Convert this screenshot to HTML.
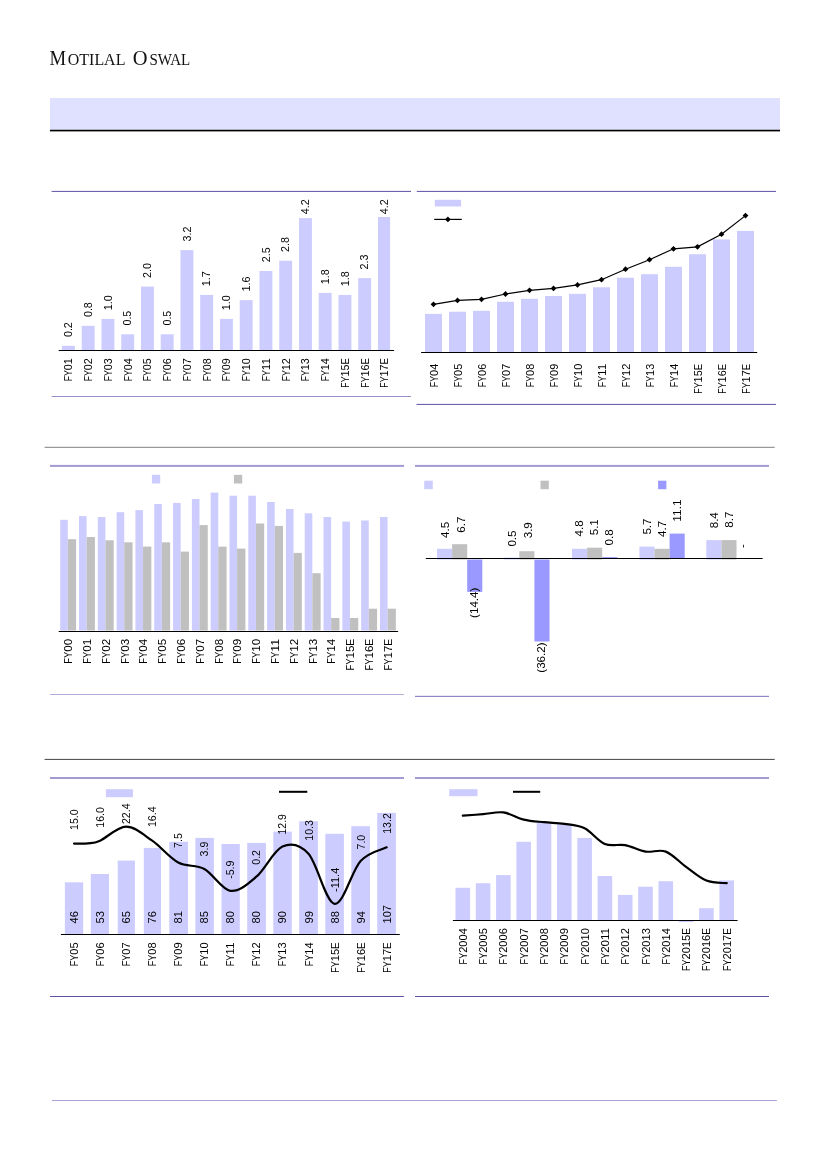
<!DOCTYPE html>
<html lang="en"><head><meta charset="utf-8"><title>Motilal Oswal</title>
<style>
html,body{margin:0;padding:0;background:#fff;}
body{width:827px;height:1169px;overflow:hidden;position:relative;font-family:"Liberation Sans",sans-serif;}
svg{position:absolute;left:0;top:0;display:block;}
svg text.lg{font-family:"Liberation Serif",serif;fill:#111;}
svg text{font-family:"Liberation Sans",sans-serif;fill:#000;}
.logo{position:absolute;left:49px;top:44px;font-family:"Liberation Serif",serif;color:#111;white-space:nowrap;line-height:24px;font-size:15.5px;letter-spacing:1.45px;}
.logo b{font-weight:normal;font-size:21.5px;letter-spacing:0.6px;}
</style></head><body>
<svg width="827" height="1169" viewBox="0 0 827 1169">
<rect x="50.00" y="98.00" width="730.00" height="31.80" fill="#E0E0FF"/>
<rect x="50.00" y="129.75" width="730.00" height="1.65" fill="#000"/>
<rect x="51.60" y="190.90" width="359.40" height="1.00" fill="#5C52A8"/>
<rect x="416.80" y="190.90" width="359.20" height="1.00" fill="#5C52A8"/>
<rect x="51.60" y="396.00" width="359.40" height="0.80" fill="#7D75BC"/>
<rect x="416.50" y="403.90" width="359.50" height="1.00" fill="#5C52A8"/>
<rect x="44.60" y="446.80" width="730.10" height="1.00" fill="#808080"/>
<rect x="50.00" y="464.90" width="354.00" height="2.00" fill="#A29BD1"/>
<rect x="415.00" y="464.90" width="354.00" height="2.00" fill="#A29BD1"/>
<rect x="50.00" y="694.05" width="353.80" height="0.90" fill="#A9A3D5"/>
<rect x="415.00" y="695.80" width="354.00" height="1.20" fill="#8F88C7"/>
<rect x="44.60" y="758.90" width="730.10" height="1.00" fill="#444"/>
<rect x="50.00" y="777.00" width="354.00" height="2.00" fill="#A29BD1"/>
<rect x="415.00" y="777.00" width="354.00" height="2.00" fill="#A29BD1"/>
<rect x="50.00" y="996.00" width="353.80" height="1.00" fill="#5C52A8"/>
<rect x="415.00" y="996.00" width="354.00" height="1.00" fill="#5C52A8"/>
<rect x="52.00" y="1100.00" width="724.90" height="1.00" fill="#A8A2D6"/>
<rect x="62.00" y="345.80" width="12.90" height="4.70" fill="#CCCCFF"/>
<g transform="translate(72.15,337.10) rotate(-90)" font-size="10.7">
<text x="0.00" textLength="14.94" lengthAdjust="spacingAndGlyphs">0.2</text>
</g>
<g transform="translate(72.35,381.33) rotate(-90)" font-size="10.7">
<text x="0.00" textLength="11.16" lengthAdjust="spacingAndGlyphs">FY</text>
<text x="11.16" textLength="11.97" lengthAdjust="spacingAndGlyphs">01</text>
</g>
<rect x="81.75" y="325.80" width="12.90" height="24.70" fill="#CCCCFF"/>
<g transform="translate(91.90,317.10) rotate(-90)" font-size="10.7">
<text x="0.00" textLength="14.94" lengthAdjust="spacingAndGlyphs">0.8</text>
</g>
<g transform="translate(92.10,381.33) rotate(-90)" font-size="10.7">
<text x="0.00" textLength="11.16" lengthAdjust="spacingAndGlyphs">FY</text>
<text x="11.16" textLength="11.97" lengthAdjust="spacingAndGlyphs">02</text>
</g>
<rect x="101.50" y="318.90" width="12.90" height="31.60" fill="#CCCCFF"/>
<g transform="translate(111.65,310.20) rotate(-90)" font-size="10.7">
<text x="0.00" textLength="14.94" lengthAdjust="spacingAndGlyphs">1.0</text>
</g>
<g transform="translate(111.85,381.33) rotate(-90)" font-size="10.7">
<text x="0.00" textLength="11.16" lengthAdjust="spacingAndGlyphs">FY</text>
<text x="11.16" textLength="11.97" lengthAdjust="spacingAndGlyphs">03</text>
</g>
<rect x="121.25" y="334.30" width="12.90" height="16.20" fill="#CCCCFF"/>
<g transform="translate(131.40,325.60) rotate(-90)" font-size="10.7">
<text x="0.00" textLength="14.94" lengthAdjust="spacingAndGlyphs">0.5</text>
</g>
<g transform="translate(131.60,381.33) rotate(-90)" font-size="10.7">
<text x="0.00" textLength="11.16" lengthAdjust="spacingAndGlyphs">FY</text>
<text x="11.16" textLength="11.97" lengthAdjust="spacingAndGlyphs">04</text>
</g>
<rect x="141.00" y="286.60" width="12.90" height="63.90" fill="#CCCCFF"/>
<g transform="translate(151.15,277.90) rotate(-90)" font-size="10.7">
<text x="0.00" textLength="14.94" lengthAdjust="spacingAndGlyphs">2.0</text>
</g>
<g transform="translate(151.35,381.33) rotate(-90)" font-size="10.7">
<text x="0.00" textLength="11.16" lengthAdjust="spacingAndGlyphs">FY</text>
<text x="11.16" textLength="11.97" lengthAdjust="spacingAndGlyphs">05</text>
</g>
<rect x="160.75" y="334.30" width="12.90" height="16.20" fill="#CCCCFF"/>
<g transform="translate(170.90,325.60) rotate(-90)" font-size="10.7">
<text x="0.00" textLength="14.94" lengthAdjust="spacingAndGlyphs">0.5</text>
</g>
<g transform="translate(171.10,381.33) rotate(-90)" font-size="10.7">
<text x="0.00" textLength="11.16" lengthAdjust="spacingAndGlyphs">FY</text>
<text x="11.16" textLength="11.97" lengthAdjust="spacingAndGlyphs">06</text>
</g>
<rect x="180.50" y="250.10" width="12.90" height="100.40" fill="#CCCCFF"/>
<g transform="translate(190.65,241.40) rotate(-90)" font-size="10.7">
<text x="0.00" textLength="14.94" lengthAdjust="spacingAndGlyphs">3.2</text>
</g>
<g transform="translate(190.85,381.33) rotate(-90)" font-size="10.7">
<text x="0.00" textLength="11.16" lengthAdjust="spacingAndGlyphs">FY</text>
<text x="11.16" textLength="11.97" lengthAdjust="spacingAndGlyphs">07</text>
</g>
<rect x="200.25" y="294.90" width="12.90" height="55.60" fill="#CCCCFF"/>
<g transform="translate(210.40,286.20) rotate(-90)" font-size="10.7">
<text x="0.00" textLength="14.94" lengthAdjust="spacingAndGlyphs">1.7</text>
</g>
<g transform="translate(210.60,381.33) rotate(-90)" font-size="10.7">
<text x="0.00" textLength="11.16" lengthAdjust="spacingAndGlyphs">FY</text>
<text x="11.16" textLength="11.97" lengthAdjust="spacingAndGlyphs">08</text>
</g>
<rect x="220.00" y="318.90" width="12.90" height="31.60" fill="#CCCCFF"/>
<g transform="translate(230.15,310.20) rotate(-90)" font-size="10.7">
<text x="0.00" textLength="14.94" lengthAdjust="spacingAndGlyphs">1.0</text>
</g>
<g transform="translate(230.35,381.33) rotate(-90)" font-size="10.7">
<text x="0.00" textLength="11.16" lengthAdjust="spacingAndGlyphs">FY</text>
<text x="11.16" textLength="11.97" lengthAdjust="spacingAndGlyphs">09</text>
</g>
<rect x="239.75" y="300.10" width="12.90" height="50.40" fill="#CCCCFF"/>
<g transform="translate(249.90,291.40) rotate(-90)" font-size="10.7">
<text x="0.00" textLength="14.94" lengthAdjust="spacingAndGlyphs">1.6</text>
</g>
<g transform="translate(250.10,381.33) rotate(-90)" font-size="10.7">
<text x="0.00" textLength="11.16" lengthAdjust="spacingAndGlyphs">FY</text>
<text x="11.16" textLength="11.97" lengthAdjust="spacingAndGlyphs">10</text>
</g>
<rect x="259.50" y="271.00" width="12.90" height="79.50" fill="#CCCCFF"/>
<g transform="translate(269.65,262.30) rotate(-90)" font-size="10.7">
<text x="0.00" textLength="14.94" lengthAdjust="spacingAndGlyphs">2.5</text>
</g>
<g transform="translate(269.85,381.33) rotate(-90)" font-size="10.7">
<text x="0.00" textLength="11.16" lengthAdjust="spacingAndGlyphs">FY</text>
<text x="11.16" textLength="11.97" lengthAdjust="spacingAndGlyphs">11</text>
</g>
<rect x="279.25" y="260.70" width="12.90" height="89.80" fill="#CCCCFF"/>
<g transform="translate(289.40,252.00) rotate(-90)" font-size="10.7">
<text x="0.00" textLength="14.94" lengthAdjust="spacingAndGlyphs">2.8</text>
</g>
<g transform="translate(289.60,381.33) rotate(-90)" font-size="10.7">
<text x="0.00" textLength="11.16" lengthAdjust="spacingAndGlyphs">FY</text>
<text x="11.16" textLength="11.97" lengthAdjust="spacingAndGlyphs">12</text>
</g>
<rect x="299.00" y="218.10" width="12.90" height="132.40" fill="#CCCCFF"/>
<g transform="translate(309.15,214.20) rotate(-90)" font-size="10.7">
<text x="0.00" textLength="14.94" lengthAdjust="spacingAndGlyphs">4.2</text>
</g>
<g transform="translate(309.35,381.33) rotate(-90)" font-size="10.7">
<text x="0.00" textLength="11.16" lengthAdjust="spacingAndGlyphs">FY</text>
<text x="11.16" textLength="11.97" lengthAdjust="spacingAndGlyphs">13</text>
</g>
<rect x="318.75" y="292.90" width="12.90" height="57.60" fill="#CCCCFF"/>
<g transform="translate(328.90,284.20) rotate(-90)" font-size="10.7">
<text x="0.00" textLength="14.94" lengthAdjust="spacingAndGlyphs">1.8</text>
</g>
<g transform="translate(329.10,381.33) rotate(-90)" font-size="10.7">
<text x="0.00" textLength="11.16" lengthAdjust="spacingAndGlyphs">FY</text>
<text x="11.16" textLength="11.97" lengthAdjust="spacingAndGlyphs">14</text>
</g>
<rect x="338.50" y="294.90" width="12.90" height="55.60" fill="#CCCCFF"/>
<g transform="translate(348.65,286.20) rotate(-90)" font-size="10.7">
<text x="0.00" textLength="14.94" lengthAdjust="spacingAndGlyphs">1.8</text>
</g>
<g transform="translate(348.85,387.70) rotate(-90)" font-size="10.7">
<text x="0.00" textLength="11.16" lengthAdjust="spacingAndGlyphs">FY</text>
<text x="11.16" textLength="11.97" lengthAdjust="spacingAndGlyphs">15</text>
<text x="23.13" textLength="6.37" lengthAdjust="spacingAndGlyphs">E</text>
</g>
<rect x="358.25" y="278.10" width="12.90" height="72.40" fill="#CCCCFF"/>
<g transform="translate(368.40,269.40) rotate(-90)" font-size="10.7">
<text x="0.00" textLength="14.94" lengthAdjust="spacingAndGlyphs">2.3</text>
</g>
<g transform="translate(368.60,387.70) rotate(-90)" font-size="10.7">
<text x="0.00" textLength="11.16" lengthAdjust="spacingAndGlyphs">FY</text>
<text x="11.16" textLength="11.97" lengthAdjust="spacingAndGlyphs">16</text>
<text x="23.13" textLength="6.37" lengthAdjust="spacingAndGlyphs">E</text>
</g>
<rect x="378.00" y="217.00" width="12.10" height="133.50" fill="#CCCCFF"/>
<g transform="translate(388.15,214.20) rotate(-90)" font-size="10.7">
<text x="0.00" textLength="14.94" lengthAdjust="spacingAndGlyphs">4.2</text>
</g>
<g transform="translate(388.35,387.70) rotate(-90)" font-size="10.7">
<text x="0.00" textLength="11.16" lengthAdjust="spacingAndGlyphs">FY</text>
<text x="11.16" textLength="11.97" lengthAdjust="spacingAndGlyphs">17</text>
<text x="23.13" textLength="6.37" lengthAdjust="spacingAndGlyphs">E</text>
</g>
<rect x="58.70" y="350.00" width="335.40" height="1.00" fill="#000"/>
<rect x="425.00" y="313.90" width="17.00" height="38.60" fill="#CCCCFF"/>
<g transform="translate(438.30,387.22) rotate(-90)" font-size="10.7">
<text x="0.00" textLength="11.30" lengthAdjust="spacingAndGlyphs">FY</text>
<text x="11.30" textLength="12.12" lengthAdjust="spacingAndGlyphs">04</text>
</g>
<rect x="449.00" y="311.70" width="17.00" height="40.80" fill="#CCCCFF"/>
<g transform="translate(462.30,387.22) rotate(-90)" font-size="10.7">
<text x="0.00" textLength="11.30" lengthAdjust="spacingAndGlyphs">FY</text>
<text x="11.30" textLength="12.12" lengthAdjust="spacingAndGlyphs">05</text>
</g>
<rect x="473.00" y="310.80" width="17.00" height="41.70" fill="#CCCCFF"/>
<g transform="translate(486.30,387.22) rotate(-90)" font-size="10.7">
<text x="0.00" textLength="11.30" lengthAdjust="spacingAndGlyphs">FY</text>
<text x="11.30" textLength="12.12" lengthAdjust="spacingAndGlyphs">06</text>
</g>
<rect x="497.00" y="301.70" width="17.00" height="50.80" fill="#CCCCFF"/>
<g transform="translate(510.30,387.22) rotate(-90)" font-size="10.7">
<text x="0.00" textLength="11.30" lengthAdjust="spacingAndGlyphs">FY</text>
<text x="11.30" textLength="12.12" lengthAdjust="spacingAndGlyphs">07</text>
</g>
<rect x="521.00" y="298.80" width="17.00" height="53.70" fill="#CCCCFF"/>
<g transform="translate(534.30,387.22) rotate(-90)" font-size="10.7">
<text x="0.00" textLength="11.30" lengthAdjust="spacingAndGlyphs">FY</text>
<text x="11.30" textLength="12.12" lengthAdjust="spacingAndGlyphs">08</text>
</g>
<rect x="545.00" y="296.00" width="17.00" height="56.50" fill="#CCCCFF"/>
<g transform="translate(558.30,387.22) rotate(-90)" font-size="10.7">
<text x="0.00" textLength="11.30" lengthAdjust="spacingAndGlyphs">FY</text>
<text x="11.30" textLength="12.12" lengthAdjust="spacingAndGlyphs">09</text>
</g>
<rect x="569.00" y="293.80" width="17.00" height="58.70" fill="#CCCCFF"/>
<g transform="translate(582.30,387.22) rotate(-90)" font-size="10.7">
<text x="0.00" textLength="11.30" lengthAdjust="spacingAndGlyphs">FY</text>
<text x="11.30" textLength="12.12" lengthAdjust="spacingAndGlyphs">10</text>
</g>
<rect x="593.00" y="287.30" width="17.00" height="65.20" fill="#CCCCFF"/>
<g transform="translate(606.30,387.22) rotate(-90)" font-size="10.7">
<text x="0.00" textLength="11.30" lengthAdjust="spacingAndGlyphs">FY</text>
<text x="11.30" textLength="12.12" lengthAdjust="spacingAndGlyphs">11</text>
</g>
<rect x="617.00" y="277.70" width="17.00" height="74.80" fill="#CCCCFF"/>
<g transform="translate(630.30,387.22) rotate(-90)" font-size="10.7">
<text x="0.00" textLength="11.30" lengthAdjust="spacingAndGlyphs">FY</text>
<text x="11.30" textLength="12.12" lengthAdjust="spacingAndGlyphs">12</text>
</g>
<rect x="641.00" y="274.20" width="17.00" height="78.30" fill="#CCCCFF"/>
<g transform="translate(654.30,387.22) rotate(-90)" font-size="10.7">
<text x="0.00" textLength="11.30" lengthAdjust="spacingAndGlyphs">FY</text>
<text x="11.30" textLength="12.12" lengthAdjust="spacingAndGlyphs">13</text>
</g>
<rect x="665.00" y="266.80" width="17.00" height="85.70" fill="#CCCCFF"/>
<g transform="translate(678.30,387.22) rotate(-90)" font-size="10.7">
<text x="0.00" textLength="11.30" lengthAdjust="spacingAndGlyphs">FY</text>
<text x="11.30" textLength="12.12" lengthAdjust="spacingAndGlyphs">14</text>
</g>
<rect x="689.00" y="254.20" width="17.00" height="98.30" fill="#CCCCFF"/>
<g transform="translate(702.30,393.68) rotate(-90)" font-size="10.7">
<text x="0.00" textLength="11.30" lengthAdjust="spacingAndGlyphs">FY</text>
<text x="11.30" textLength="12.12" lengthAdjust="spacingAndGlyphs">15</text>
<text x="23.42" textLength="6.45" lengthAdjust="spacingAndGlyphs">E</text>
</g>
<rect x="713.00" y="239.40" width="17.00" height="113.10" fill="#CCCCFF"/>
<g transform="translate(726.30,393.68) rotate(-90)" font-size="10.7">
<text x="0.00" textLength="11.30" lengthAdjust="spacingAndGlyphs">FY</text>
<text x="11.30" textLength="12.12" lengthAdjust="spacingAndGlyphs">16</text>
<text x="23.42" textLength="6.45" lengthAdjust="spacingAndGlyphs">E</text>
</g>
<rect x="737.00" y="230.90" width="17.00" height="121.60" fill="#CCCCFF"/>
<g transform="translate(750.30,393.68) rotate(-90)" font-size="10.7">
<text x="0.00" textLength="11.30" lengthAdjust="spacingAndGlyphs">FY</text>
<text x="11.30" textLength="12.12" lengthAdjust="spacingAndGlyphs">17</text>
<text x="23.42" textLength="6.45" lengthAdjust="spacingAndGlyphs">E</text>
</g>
<rect x="421.10" y="352.00" width="336.10" height="1.00" fill="#000"/>
<polyline fill="none" stroke="#000" stroke-width="1.2" points="433.5,304.3 457.5,300.4 481.5,299.3 505.5,294.0 529.5,290.3 553.5,288.4 577.5,284.9 601.5,279.7 625.5,269.2 649.5,259.7 673.5,248.8 697.5,246.8 721.5,234.2 745.5,215.6"/>
<path d="M430.60,304.30 L433.50,301.40 L436.40,304.30 L433.50,307.20Z" fill="#000"/>
<path d="M454.60,300.40 L457.50,297.50 L460.40,300.40 L457.50,303.30Z" fill="#000"/>
<path d="M478.60,299.30 L481.50,296.40 L484.40,299.30 L481.50,302.20Z" fill="#000"/>
<path d="M502.60,294.00 L505.50,291.10 L508.40,294.00 L505.50,296.90Z" fill="#000"/>
<path d="M526.60,290.30 L529.50,287.40 L532.40,290.30 L529.50,293.20Z" fill="#000"/>
<path d="M550.60,288.40 L553.50,285.50 L556.40,288.40 L553.50,291.30Z" fill="#000"/>
<path d="M574.60,284.90 L577.50,282.00 L580.40,284.90 L577.50,287.80Z" fill="#000"/>
<path d="M598.60,279.70 L601.50,276.80 L604.40,279.70 L601.50,282.60Z" fill="#000"/>
<path d="M622.60,269.20 L625.50,266.30 L628.40,269.20 L625.50,272.10Z" fill="#000"/>
<path d="M646.60,259.70 L649.50,256.80 L652.40,259.70 L649.50,262.60Z" fill="#000"/>
<path d="M670.60,248.80 L673.50,245.90 L676.40,248.80 L673.50,251.70Z" fill="#000"/>
<path d="M694.60,246.80 L697.50,243.90 L700.40,246.80 L697.50,249.70Z" fill="#000"/>
<path d="M718.60,234.20 L721.50,231.30 L724.40,234.20 L721.50,237.10Z" fill="#000"/>
<path d="M742.60,215.60 L745.50,212.70 L748.40,215.60 L745.50,218.50Z" fill="#000"/>
<rect x="434.80" y="199.80" width="26.30" height="6.70" fill="#CCCCFF"/>
<rect x="434.20" y="218.80" width="27.60" height="1.20" fill="#000"/>
<path d="M445.00,219.40 L447.90,216.50 L450.80,219.40 L447.90,222.30Z" fill="#000"/>
<rect x="60.20" y="519.80" width="7.60" height="110.70" fill="#CCCCFF"/>
<rect x="67.80" y="539.20" width="8.30" height="91.30" fill="#C0C0C0"/>
<g transform="translate(72.10,663.69) rotate(-90)" font-size="10.7">
<text x="0.00" textLength="12.01" lengthAdjust="spacingAndGlyphs">FY</text>
<text x="12.01" textLength="12.88" lengthAdjust="spacingAndGlyphs">00</text>
</g>
<rect x="79.01" y="516.10" width="7.60" height="114.40" fill="#CCCCFF"/>
<rect x="86.61" y="537.00" width="8.30" height="93.50" fill="#C0C0C0"/>
<g transform="translate(90.91,663.69) rotate(-90)" font-size="10.7">
<text x="0.00" textLength="12.01" lengthAdjust="spacingAndGlyphs">FY</text>
<text x="12.01" textLength="12.88" lengthAdjust="spacingAndGlyphs">01</text>
</g>
<rect x="97.82" y="517.00" width="7.60" height="113.50" fill="#CCCCFF"/>
<rect x="105.42" y="540.30" width="8.30" height="90.20" fill="#C0C0C0"/>
<g transform="translate(109.72,663.69) rotate(-90)" font-size="10.7">
<text x="0.00" textLength="12.01" lengthAdjust="spacingAndGlyphs">FY</text>
<text x="12.01" textLength="12.88" lengthAdjust="spacingAndGlyphs">02</text>
</g>
<rect x="116.63" y="512.20" width="7.60" height="118.30" fill="#CCCCFF"/>
<rect x="124.23" y="542.30" width="8.30" height="88.20" fill="#C0C0C0"/>
<g transform="translate(128.53,663.69) rotate(-90)" font-size="10.7">
<text x="0.00" textLength="12.01" lengthAdjust="spacingAndGlyphs">FY</text>
<text x="12.01" textLength="12.88" lengthAdjust="spacingAndGlyphs">03</text>
</g>
<rect x="135.44" y="510.10" width="7.60" height="120.40" fill="#CCCCFF"/>
<rect x="143.04" y="546.60" width="8.30" height="83.90" fill="#C0C0C0"/>
<g transform="translate(147.34,663.69) rotate(-90)" font-size="10.7">
<text x="0.00" textLength="12.01" lengthAdjust="spacingAndGlyphs">FY</text>
<text x="12.01" textLength="12.88" lengthAdjust="spacingAndGlyphs">04</text>
</g>
<rect x="154.25" y="504.00" width="7.60" height="126.50" fill="#CCCCFF"/>
<rect x="161.85" y="542.30" width="8.30" height="88.20" fill="#C0C0C0"/>
<g transform="translate(166.15,663.69) rotate(-90)" font-size="10.7">
<text x="0.00" textLength="12.01" lengthAdjust="spacingAndGlyphs">FY</text>
<text x="12.01" textLength="12.88" lengthAdjust="spacingAndGlyphs">05</text>
</g>
<rect x="173.06" y="502.90" width="7.60" height="127.60" fill="#CCCCFF"/>
<rect x="180.66" y="551.60" width="8.30" height="78.90" fill="#C0C0C0"/>
<g transform="translate(184.96,663.69) rotate(-90)" font-size="10.7">
<text x="0.00" textLength="12.01" lengthAdjust="spacingAndGlyphs">FY</text>
<text x="12.01" textLength="12.88" lengthAdjust="spacingAndGlyphs">06</text>
</g>
<rect x="191.87" y="499.00" width="7.60" height="131.50" fill="#CCCCFF"/>
<rect x="199.47" y="525.10" width="8.30" height="105.40" fill="#C0C0C0"/>
<g transform="translate(203.77,663.69) rotate(-90)" font-size="10.7">
<text x="0.00" textLength="12.01" lengthAdjust="spacingAndGlyphs">FY</text>
<text x="12.01" textLength="12.88" lengthAdjust="spacingAndGlyphs">07</text>
</g>
<rect x="210.68" y="492.60" width="7.60" height="137.90" fill="#CCCCFF"/>
<rect x="218.28" y="546.60" width="8.30" height="83.90" fill="#C0C0C0"/>
<g transform="translate(222.58,663.69) rotate(-90)" font-size="10.7">
<text x="0.00" textLength="12.01" lengthAdjust="spacingAndGlyphs">FY</text>
<text x="12.01" textLength="12.88" lengthAdjust="spacingAndGlyphs">08</text>
</g>
<rect x="229.49" y="495.70" width="7.60" height="134.80" fill="#CCCCFF"/>
<rect x="237.09" y="548.60" width="8.30" height="81.90" fill="#C0C0C0"/>
<g transform="translate(241.39,663.69) rotate(-90)" font-size="10.7">
<text x="0.00" textLength="12.01" lengthAdjust="spacingAndGlyphs">FY</text>
<text x="12.01" textLength="12.88" lengthAdjust="spacingAndGlyphs">09</text>
</g>
<rect x="248.30" y="495.70" width="7.60" height="134.80" fill="#CCCCFF"/>
<rect x="255.90" y="523.50" width="8.30" height="107.00" fill="#C0C0C0"/>
<g transform="translate(260.20,663.69) rotate(-90)" font-size="10.7">
<text x="0.00" textLength="12.01" lengthAdjust="spacingAndGlyphs">FY</text>
<text x="12.01" textLength="12.88" lengthAdjust="spacingAndGlyphs">10</text>
</g>
<rect x="267.11" y="502.00" width="7.60" height="128.50" fill="#CCCCFF"/>
<rect x="274.71" y="525.90" width="8.30" height="104.60" fill="#C0C0C0"/>
<g transform="translate(279.01,663.69) rotate(-90)" font-size="10.7">
<text x="0.00" textLength="12.01" lengthAdjust="spacingAndGlyphs">FY</text>
<text x="12.01" textLength="12.88" lengthAdjust="spacingAndGlyphs">11</text>
</g>
<rect x="285.92" y="509.00" width="7.60" height="121.50" fill="#CCCCFF"/>
<rect x="293.52" y="552.90" width="8.30" height="77.60" fill="#C0C0C0"/>
<g transform="translate(297.82,663.69) rotate(-90)" font-size="10.7">
<text x="0.00" textLength="12.01" lengthAdjust="spacingAndGlyphs">FY</text>
<text x="12.01" textLength="12.88" lengthAdjust="spacingAndGlyphs">12</text>
</g>
<rect x="304.73" y="513.30" width="7.60" height="117.20" fill="#CCCCFF"/>
<rect x="312.33" y="573.20" width="8.30" height="57.30" fill="#C0C0C0"/>
<g transform="translate(316.63,663.69) rotate(-90)" font-size="10.7">
<text x="0.00" textLength="12.01" lengthAdjust="spacingAndGlyphs">FY</text>
<text x="12.01" textLength="12.88" lengthAdjust="spacingAndGlyphs">13</text>
</g>
<rect x="323.54" y="517.00" width="7.60" height="113.50" fill="#CCCCFF"/>
<rect x="331.14" y="618.00" width="8.30" height="12.50" fill="#C0C0C0"/>
<g transform="translate(335.44,663.69) rotate(-90)" font-size="10.7">
<text x="0.00" textLength="12.01" lengthAdjust="spacingAndGlyphs">FY</text>
<text x="12.01" textLength="12.88" lengthAdjust="spacingAndGlyphs">14</text>
</g>
<rect x="342.35" y="521.60" width="7.60" height="108.90" fill="#CCCCFF"/>
<rect x="349.95" y="618.00" width="8.30" height="12.50" fill="#C0C0C0"/>
<g transform="translate(354.25,670.55) rotate(-90)" font-size="10.7">
<text x="0.00" textLength="12.01" lengthAdjust="spacingAndGlyphs">FY</text>
<text x="12.01" textLength="12.88" lengthAdjust="spacingAndGlyphs">15</text>
<text x="24.89" textLength="6.86" lengthAdjust="spacingAndGlyphs">E</text>
</g>
<rect x="361.16" y="520.50" width="7.60" height="110.00" fill="#CCCCFF"/>
<rect x="368.76" y="608.70" width="8.30" height="21.80" fill="#C0C0C0"/>
<g transform="translate(373.06,670.55) rotate(-90)" font-size="10.7">
<text x="0.00" textLength="12.01" lengthAdjust="spacingAndGlyphs">FY</text>
<text x="12.01" textLength="12.88" lengthAdjust="spacingAndGlyphs">16</text>
<text x="24.89" textLength="6.86" lengthAdjust="spacingAndGlyphs">E</text>
</g>
<rect x="379.97" y="517.00" width="7.60" height="113.50" fill="#CCCCFF"/>
<rect x="387.57" y="608.70" width="8.30" height="21.80" fill="#C0C0C0"/>
<g transform="translate(391.87,670.55) rotate(-90)" font-size="10.7">
<text x="0.00" textLength="12.01" lengthAdjust="spacingAndGlyphs">FY</text>
<text x="12.01" textLength="12.88" lengthAdjust="spacingAndGlyphs">17</text>
<text x="24.89" textLength="6.86" lengthAdjust="spacingAndGlyphs">E</text>
</g>
<rect x="58.70" y="631.00" width="339.40" height="1.00" fill="#000"/>
<rect x="151.90" y="474.80" width="8.30" height="8.70" fill="#CCCCFF"/>
<rect x="233.90" y="474.80" width="8.30" height="8.70" fill="#C0C0C0"/>
<rect x="437.00" y="548.80" width="15.10" height="10.70" fill="#CCCCFF"/>
<rect x="452.10" y="544.20" width="15.10" height="15.30" fill="#C0C0C0"/>
<rect x="467.20" y="559.50" width="15.10" height="32.40" fill="#9999FF"/>
<rect x="504.20" y="557.60" width="15.10" height="1.90" fill="#CCCCFF"/>
<rect x="519.30" y="551.20" width="15.10" height="8.30" fill="#C0C0C0"/>
<rect x="534.40" y="559.50" width="15.10" height="82.00" fill="#9999FF"/>
<rect x="572.00" y="548.80" width="15.10" height="10.70" fill="#CCCCFF"/>
<rect x="587.10" y="547.70" width="15.10" height="11.80" fill="#C0C0C0"/>
<rect x="602.20" y="557.10" width="15.10" height="1.40" fill="#9999FF"/>
<rect x="639.40" y="546.60" width="15.10" height="12.90" fill="#CCCCFF"/>
<rect x="654.50" y="548.80" width="15.10" height="10.70" fill="#C0C0C0"/>
<rect x="669.60" y="533.60" width="15.10" height="24.90" fill="#9999FF"/>
<rect x="706.30" y="540.10" width="15.10" height="19.40" fill="#CCCCFF"/>
<rect x="721.40" y="540.10" width="15.10" height="19.40" fill="#C0C0C0"/>
<rect x="425.80" y="558.00" width="336.80" height="1.00" fill="#000"/>
<g transform="translate(448.70,537.90) rotate(-90)" font-size="10.7">
<text x="0.00" textLength="16.08" lengthAdjust="spacingAndGlyphs">4.5</text>
</g>
<g transform="translate(464.60,532.70) rotate(-90)" font-size="10.7">
<text x="0.00" textLength="16.08" lengthAdjust="spacingAndGlyphs">6.7</text>
</g>
<g transform="translate(478.30,617.90) rotate(-90)" font-size="10.7">
<text x="0.00" textLength="30.21" lengthAdjust="spacingAndGlyphs">(14.4)</text>
</g>
<g transform="translate(516.20,546.60) rotate(-90)" font-size="10.7">
<text x="0.00" textLength="16.08" lengthAdjust="spacingAndGlyphs">0.5</text>
</g>
<g transform="translate(531.50,538.30) rotate(-90)" font-size="10.7">
<text x="0.00" textLength="16.08" lengthAdjust="spacingAndGlyphs">3.9</text>
</g>
<g transform="translate(545.40,672.70) rotate(-90)" font-size="10.7">
<text x="0.00" textLength="30.21" lengthAdjust="spacingAndGlyphs">(36.2)</text>
</g>
<g transform="translate(583.30,536.40) rotate(-90)" font-size="10.7">
<text x="0.00" textLength="16.08" lengthAdjust="spacingAndGlyphs">4.8</text>
</g>
<g transform="translate(598.30,535.30) rotate(-90)" font-size="10.7">
<text x="0.00" textLength="16.08" lengthAdjust="spacingAndGlyphs">5.1</text>
</g>
<g transform="translate(613.10,545.50) rotate(-90)" font-size="10.7">
<text x="0.00" textLength="16.08" lengthAdjust="spacingAndGlyphs">0.8</text>
</g>
<g transform="translate(650.50,534.60) rotate(-90)" font-size="10.7">
<text x="0.00" textLength="16.08" lengthAdjust="spacingAndGlyphs">5.7</text>
</g>
<g transform="translate(666.00,537.00) rotate(-90)" font-size="10.7">
<text x="0.00" textLength="16.08" lengthAdjust="spacingAndGlyphs">4.7</text>
</g>
<g transform="translate(680.60,521.80) rotate(-90)" font-size="10.7">
<text x="0.00" textLength="22.52" lengthAdjust="spacingAndGlyphs">11.1</text>
</g>
<g transform="translate(718.00,528.30) rotate(-90)" font-size="10.7">
<text x="0.00" textLength="16.08" lengthAdjust="spacingAndGlyphs">8.4</text>
</g>
<g transform="translate(733.20,527.70) rotate(-90)" font-size="10.7">
<text x="0.00" textLength="16.08" lengthAdjust="spacingAndGlyphs">8.7</text>
</g>
<g transform="translate(746.40,548.00) rotate(-90)" font-size="10.7">
<text x="0.00" textLength="3.89" lengthAdjust="spacingAndGlyphs">-</text>
</g>
<rect x="424.20" y="480.70" width="8.60" height="8.50" fill="#CCCCFF"/>
<rect x="540.50" y="480.70" width="8.30" height="8.50" fill="#C0C0C0"/>
<rect x="658.10" y="480.70" width="8.30" height="8.50" fill="#9999FF"/>
<rect x="64.85" y="882.30" width="18.35" height="52.20" fill="#CCCCFF"/>
<rect x="90.80" y="874.00" width="18.20" height="60.50" fill="#CCCCFF"/>
<rect x="117.70" y="860.60" width="17.20" height="73.90" fill="#CCCCFF"/>
<rect x="143.80" y="847.90" width="17.20" height="86.60" fill="#CCCCFF"/>
<rect x="169.30" y="841.80" width="18.70" height="92.70" fill="#CCCCFF"/>
<rect x="195.40" y="837.90" width="18.50" height="96.60" fill="#CCCCFF"/>
<rect x="221.50" y="844.00" width="18.30" height="90.50" fill="#CCCCFF"/>
<rect x="247.20" y="842.90" width="18.70" height="91.60" fill="#CCCCFF"/>
<rect x="273.30" y="831.60" width="18.50" height="102.90" fill="#CCCCFF"/>
<rect x="299.20" y="821.20" width="18.70" height="113.30" fill="#CCCCFF"/>
<rect x="325.30" y="833.80" width="18.60" height="100.70" fill="#CCCCFF"/>
<rect x="351.30" y="826.20" width="18.70" height="108.30" fill="#CCCCFF"/>
<rect x="377.20" y="812.90" width="18.70" height="121.60" fill="#CCCCFF"/>
<g transform="translate(78.05,923.50) rotate(-90)" font-size="10.7">
<text x="0.00" textLength="12.37" lengthAdjust="spacingAndGlyphs">46</text>
</g>
<g transform="translate(78.05,829.90) rotate(-90)" font-size="10.7">
<text x="0.00" textLength="20.57" lengthAdjust="spacingAndGlyphs">15.0</text>
</g>
<g transform="translate(78.05,966.21) rotate(-90)" font-size="10.7">
<text x="0.00" textLength="11.54" lengthAdjust="spacingAndGlyphs">FY</text>
<text x="11.54" textLength="12.37" lengthAdjust="spacingAndGlyphs">05</text>
</g>
<g transform="translate(104.10,923.50) rotate(-90)" font-size="10.7">
<text x="0.00" textLength="12.37" lengthAdjust="spacingAndGlyphs">53</text>
</g>
<g transform="translate(104.10,827.70) rotate(-90)" font-size="10.7">
<text x="0.00" textLength="20.57" lengthAdjust="spacingAndGlyphs">16.0</text>
</g>
<g transform="translate(104.10,966.21) rotate(-90)" font-size="10.7">
<text x="0.00" textLength="11.54" lengthAdjust="spacingAndGlyphs">FY</text>
<text x="11.54" textLength="12.37" lengthAdjust="spacingAndGlyphs">06</text>
</g>
<g transform="translate(130.15,923.50) rotate(-90)" font-size="10.7">
<text x="0.00" textLength="12.37" lengthAdjust="spacingAndGlyphs">65</text>
</g>
<g transform="translate(130.15,824.00) rotate(-90)" font-size="10.7">
<text x="0.00" textLength="20.57" lengthAdjust="spacingAndGlyphs">22.4</text>
</g>
<g transform="translate(130.15,966.21) rotate(-90)" font-size="10.7">
<text x="0.00" textLength="11.54" lengthAdjust="spacingAndGlyphs">FY</text>
<text x="11.54" textLength="12.37" lengthAdjust="spacingAndGlyphs">07</text>
</g>
<g transform="translate(156.20,923.50) rotate(-90)" font-size="10.7">
<text x="0.00" textLength="12.37" lengthAdjust="spacingAndGlyphs">76</text>
</g>
<g transform="translate(156.20,827.00) rotate(-90)" font-size="10.7">
<text x="0.00" textLength="20.57" lengthAdjust="spacingAndGlyphs">16.4</text>
</g>
<g transform="translate(156.20,966.21) rotate(-90)" font-size="10.7">
<text x="0.00" textLength="11.54" lengthAdjust="spacingAndGlyphs">FY</text>
<text x="11.54" textLength="12.37" lengthAdjust="spacingAndGlyphs">08</text>
</g>
<g transform="translate(182.25,923.50) rotate(-90)" font-size="10.7">
<text x="0.00" textLength="12.37" lengthAdjust="spacingAndGlyphs">81</text>
</g>
<g transform="translate(182.25,847.90) rotate(-90)" font-size="10.7">
<text x="0.00" textLength="14.69" lengthAdjust="spacingAndGlyphs">7.5</text>
</g>
<g transform="translate(182.25,966.21) rotate(-90)" font-size="10.7">
<text x="0.00" textLength="11.54" lengthAdjust="spacingAndGlyphs">FY</text>
<text x="11.54" textLength="12.37" lengthAdjust="spacingAndGlyphs">09</text>
</g>
<g transform="translate(208.30,923.50) rotate(-90)" font-size="10.7">
<text x="0.00" textLength="12.37" lengthAdjust="spacingAndGlyphs">85</text>
</g>
<g transform="translate(208.30,856.40) rotate(-90)" font-size="10.7">
<text x="0.00" textLength="14.69" lengthAdjust="spacingAndGlyphs">3.9</text>
</g>
<g transform="translate(208.30,966.21) rotate(-90)" font-size="10.7">
<text x="0.00" textLength="11.54" lengthAdjust="spacingAndGlyphs">FY</text>
<text x="11.54" textLength="12.37" lengthAdjust="spacingAndGlyphs">10</text>
</g>
<g transform="translate(234.35,923.50) rotate(-90)" font-size="10.7">
<text x="0.00" textLength="12.37" lengthAdjust="spacingAndGlyphs">80</text>
</g>
<g transform="translate(234.35,878.80) rotate(-90)" font-size="10.7">
<text x="0.00" textLength="18.24" lengthAdjust="spacingAndGlyphs">-5.9</text>
</g>
<g transform="translate(234.35,966.21) rotate(-90)" font-size="10.7">
<text x="0.00" textLength="11.54" lengthAdjust="spacingAndGlyphs">FY</text>
<text x="11.54" textLength="12.37" lengthAdjust="spacingAndGlyphs">11</text>
</g>
<g transform="translate(260.40,923.50) rotate(-90)" font-size="10.7">
<text x="0.00" textLength="12.37" lengthAdjust="spacingAndGlyphs">80</text>
</g>
<g transform="translate(260.40,864.70) rotate(-90)" font-size="10.7">
<text x="0.00" textLength="14.69" lengthAdjust="spacingAndGlyphs">0.2</text>
</g>
<g transform="translate(260.40,966.21) rotate(-90)" font-size="10.7">
<text x="0.00" textLength="11.54" lengthAdjust="spacingAndGlyphs">FY</text>
<text x="11.54" textLength="12.37" lengthAdjust="spacingAndGlyphs">12</text>
</g>
<g transform="translate(286.45,923.50) rotate(-90)" font-size="10.7">
<text x="0.00" textLength="12.37" lengthAdjust="spacingAndGlyphs">90</text>
</g>
<g transform="translate(286.45,834.60) rotate(-90)" font-size="10.7">
<text x="0.00" textLength="20.57" lengthAdjust="spacingAndGlyphs">12.9</text>
</g>
<g transform="translate(286.45,966.21) rotate(-90)" font-size="10.7">
<text x="0.00" textLength="11.54" lengthAdjust="spacingAndGlyphs">FY</text>
<text x="11.54" textLength="12.37" lengthAdjust="spacingAndGlyphs">13</text>
</g>
<g transform="translate(312.50,923.50) rotate(-90)" font-size="10.7">
<text x="0.00" textLength="12.37" lengthAdjust="spacingAndGlyphs">99</text>
</g>
<g transform="translate(312.50,840.70) rotate(-90)" font-size="10.7">
<text x="0.00" textLength="20.57" lengthAdjust="spacingAndGlyphs">10.3</text>
</g>
<g transform="translate(312.50,966.21) rotate(-90)" font-size="10.7">
<text x="0.00" textLength="11.54" lengthAdjust="spacingAndGlyphs">FY</text>
<text x="11.54" textLength="12.37" lengthAdjust="spacingAndGlyphs">14</text>
</g>
<g transform="translate(338.55,923.50) rotate(-90)" font-size="10.7">
<text x="0.00" textLength="12.37" lengthAdjust="spacingAndGlyphs">88</text>
</g>
<g transform="translate(338.55,891.90) rotate(-90)" font-size="10.7">
<text x="0.00" textLength="24.12" lengthAdjust="spacingAndGlyphs">-11.4</text>
</g>
<g transform="translate(338.55,972.80) rotate(-90)" font-size="10.7">
<text x="0.00" textLength="11.54" lengthAdjust="spacingAndGlyphs">FY</text>
<text x="11.54" textLength="12.37" lengthAdjust="spacingAndGlyphs">15</text>
<text x="23.91" textLength="6.59" lengthAdjust="spacingAndGlyphs">E</text>
</g>
<g transform="translate(364.60,923.50) rotate(-90)" font-size="10.7">
<text x="0.00" textLength="12.37" lengthAdjust="spacingAndGlyphs">94</text>
</g>
<g transform="translate(364.60,849.50) rotate(-90)" font-size="10.7">
<text x="0.00" textLength="14.69" lengthAdjust="spacingAndGlyphs">7.0</text>
</g>
<g transform="translate(364.60,972.80) rotate(-90)" font-size="10.7">
<text x="0.00" textLength="11.54" lengthAdjust="spacingAndGlyphs">FY</text>
<text x="11.54" textLength="12.37" lengthAdjust="spacingAndGlyphs">16</text>
<text x="23.91" textLength="6.59" lengthAdjust="spacingAndGlyphs">E</text>
</g>
<g transform="translate(390.65,923.50) rotate(-90)" font-size="10.7">
<text x="0.00" textLength="18.56" lengthAdjust="spacingAndGlyphs">107</text>
</g>
<g transform="translate(390.65,833.80) rotate(-90)" font-size="10.7">
<text x="0.00" textLength="20.57" lengthAdjust="spacingAndGlyphs">13.2</text>
</g>
<g transform="translate(390.65,972.80) rotate(-90)" font-size="10.7">
<text x="0.00" textLength="11.54" lengthAdjust="spacingAndGlyphs">FY</text>
<text x="11.54" textLength="12.37" lengthAdjust="spacingAndGlyphs">17</text>
<text x="23.91" textLength="6.59" lengthAdjust="spacingAndGlyphs">E</text>
</g>
<rect x="60.90" y="934.00" width="338.90" height="1.00" fill="#000"/>
<path d="M74.05,843.60 C76.38,843.57 83.66,843.88 88.00,843.40 C92.34,842.92 93.74,843.50 100.10,840.70 C106.46,837.90 117.47,826.60 126.15,826.60 C134.83,826.60 143.52,834.72 152.20,840.70 C160.88,846.68 169.57,857.78 178.25,862.50 C186.93,867.22 195.62,864.28 204.30,869.00 C212.98,873.72 221.67,889.52 230.35,890.80 C239.03,892.08 247.72,884.07 256.40,876.70 C265.08,869.33 273.77,850.42 282.45,846.60 C291.13,842.78 299.82,844.25 308.50,853.80 C317.18,863.35 325.87,902.70 334.55,903.90 C343.23,905.10 351.92,870.43 360.60,861.00 C369.28,851.57 382.31,849.58 386.65,847.30" fill="none" stroke="#000" stroke-width="2.2" stroke-linecap="round"/>
<rect x="105.90" y="789.20" width="27.00" height="8.00" fill="#CCCCFF"/>
<rect x="279.00" y="790.80" width="28.30" height="2.00" fill="#000"/>
<rect x="455.50" y="887.80" width="14.60" height="32.70" fill="#CCCCFF"/>
<g transform="translate(466.80,964.38) rotate(-90)" font-size="10.7">
<text x="0.00" textLength="11.54" lengthAdjust="spacingAndGlyphs">FY</text>
<text x="11.54" textLength="24.74" lengthAdjust="spacingAndGlyphs">2004</text>
</g>
<rect x="475.80" y="883.20" width="14.60" height="37.30" fill="#CCCCFF"/>
<g transform="translate(487.10,964.38) rotate(-90)" font-size="10.7">
<text x="0.00" textLength="11.54" lengthAdjust="spacingAndGlyphs">FY</text>
<text x="11.54" textLength="24.74" lengthAdjust="spacingAndGlyphs">2005</text>
</g>
<rect x="496.10" y="875.10" width="14.60" height="45.40" fill="#CCCCFF"/>
<g transform="translate(507.40,964.38) rotate(-90)" font-size="10.7">
<text x="0.00" textLength="11.54" lengthAdjust="spacingAndGlyphs">FY</text>
<text x="11.54" textLength="24.74" lengthAdjust="spacingAndGlyphs">2006</text>
</g>
<rect x="516.40" y="841.80" width="14.60" height="78.70" fill="#CCCCFF"/>
<g transform="translate(527.70,964.38) rotate(-90)" font-size="10.7">
<text x="0.00" textLength="11.54" lengthAdjust="spacingAndGlyphs">FY</text>
<text x="11.54" textLength="24.74" lengthAdjust="spacingAndGlyphs">2007</text>
</g>
<rect x="536.70" y="822.20" width="14.60" height="98.30" fill="#CCCCFF"/>
<g transform="translate(548.00,964.38) rotate(-90)" font-size="10.7">
<text x="0.00" textLength="11.54" lengthAdjust="spacingAndGlyphs">FY</text>
<text x="11.54" textLength="24.74" lengthAdjust="spacingAndGlyphs">2008</text>
</g>
<rect x="557.00" y="824.40" width="14.60" height="96.10" fill="#CCCCFF"/>
<g transform="translate(568.30,964.38) rotate(-90)" font-size="10.7">
<text x="0.00" textLength="11.54" lengthAdjust="spacingAndGlyphs">FY</text>
<text x="11.54" textLength="24.74" lengthAdjust="spacingAndGlyphs">2009</text>
</g>
<rect x="577.30" y="837.90" width="14.60" height="82.60" fill="#CCCCFF"/>
<g transform="translate(588.60,964.38) rotate(-90)" font-size="10.7">
<text x="0.00" textLength="11.54" lengthAdjust="spacingAndGlyphs">FY</text>
<text x="11.54" textLength="24.74" lengthAdjust="spacingAndGlyphs">2010</text>
</g>
<rect x="597.60" y="876.00" width="14.60" height="44.50" fill="#CCCCFF"/>
<g transform="translate(608.90,964.38) rotate(-90)" font-size="10.7">
<text x="0.00" textLength="11.54" lengthAdjust="spacingAndGlyphs">FY</text>
<text x="11.54" textLength="24.74" lengthAdjust="spacingAndGlyphs">2011</text>
</g>
<rect x="617.90" y="894.90" width="14.60" height="25.60" fill="#CCCCFF"/>
<g transform="translate(629.20,964.38) rotate(-90)" font-size="10.7">
<text x="0.00" textLength="11.54" lengthAdjust="spacingAndGlyphs">FY</text>
<text x="11.54" textLength="24.74" lengthAdjust="spacingAndGlyphs">2012</text>
</g>
<rect x="638.20" y="886.70" width="14.60" height="33.80" fill="#CCCCFF"/>
<g transform="translate(649.50,964.38) rotate(-90)" font-size="10.7">
<text x="0.00" textLength="11.54" lengthAdjust="spacingAndGlyphs">FY</text>
<text x="11.54" textLength="24.74" lengthAdjust="spacingAndGlyphs">2013</text>
</g>
<rect x="658.50" y="881.20" width="14.60" height="39.30" fill="#CCCCFF"/>
<g transform="translate(669.80,964.38) rotate(-90)" font-size="10.7">
<text x="0.00" textLength="11.54" lengthAdjust="spacingAndGlyphs">FY</text>
<text x="11.54" textLength="24.74" lengthAdjust="spacingAndGlyphs">2014</text>
</g>
<rect x="678.80" y="920.50" width="14.60" height="1.60" fill="#CCCCFF"/>
<g transform="translate(690.10,970.97) rotate(-90)" font-size="10.7">
<text x="0.00" textLength="11.54" lengthAdjust="spacingAndGlyphs">FY</text>
<text x="11.54" textLength="24.74" lengthAdjust="spacingAndGlyphs">2015</text>
<text x="36.28" textLength="6.59" lengthAdjust="spacingAndGlyphs">E</text>
</g>
<rect x="699.10" y="908.20" width="14.60" height="12.30" fill="#CCCCFF"/>
<g transform="translate(710.40,970.97) rotate(-90)" font-size="10.7">
<text x="0.00" textLength="11.54" lengthAdjust="spacingAndGlyphs">FY</text>
<text x="11.54" textLength="24.74" lengthAdjust="spacingAndGlyphs">2016</text>
<text x="36.28" textLength="6.59" lengthAdjust="spacingAndGlyphs">E</text>
</g>
<rect x="719.40" y="880.40" width="14.60" height="40.10" fill="#CCCCFF"/>
<g transform="translate(730.70,970.97) rotate(-90)" font-size="10.7">
<text x="0.00" textLength="11.54" lengthAdjust="spacingAndGlyphs">FY</text>
<text x="11.54" textLength="24.74" lengthAdjust="spacingAndGlyphs">2017</text>
<text x="36.28" textLength="6.59" lengthAdjust="spacingAndGlyphs">E</text>
</g>
<rect x="452.90" y="920.00" width="284.70" height="1.00" fill="#000"/>
<path d="M462.80,815.70 C466.18,815.45 476.33,814.75 483.10,814.20 C489.87,813.65 496.63,811.50 503.40,812.40 C510.17,813.30 516.93,817.97 523.70,819.60 C530.47,821.23 537.23,821.50 544.00,822.20 C550.77,822.90 557.53,822.78 564.30,823.80 C571.07,824.82 577.83,824.93 584.60,828.30 C591.37,831.67 598.13,841.20 604.90,844.00 C611.67,846.80 618.43,843.83 625.20,845.10 C631.97,846.37 638.73,850.52 645.50,851.60 C652.27,852.68 659.03,849.05 665.80,851.60 C672.57,854.15 679.33,862.07 686.10,866.90 C692.87,871.73 699.63,877.88 706.40,880.60 C713.17,883.32 723.32,882.77 726.70,883.20" fill="none" stroke="#000" stroke-width="2.2" stroke-linecap="round"/>
<rect x="449.20" y="789.20" width="28.30" height="7.00" fill="#CCCCFF"/>
<rect x="513.00" y="790.80" width="27.20" height="2.00" fill="#000"/>
<text class="lg" x="49.6" y="64.8" font-size="22" textLength="16.6" lengthAdjust="spacingAndGlyphs">M</text>
<text class="lg" x="67.8" y="64.8" font-size="16" textLength="57.6" lengthAdjust="spacingAndGlyphs">OTILAL</text>
<text class="lg" x="132.7" y="64.8" font-size="22" textLength="14.8" lengthAdjust="spacingAndGlyphs">O</text>
<text class="lg" x="149.4" y="64.8" font-size="16" textLength="40.8" lengthAdjust="spacingAndGlyphs">SWAL</text>
</svg>
</body></html>
